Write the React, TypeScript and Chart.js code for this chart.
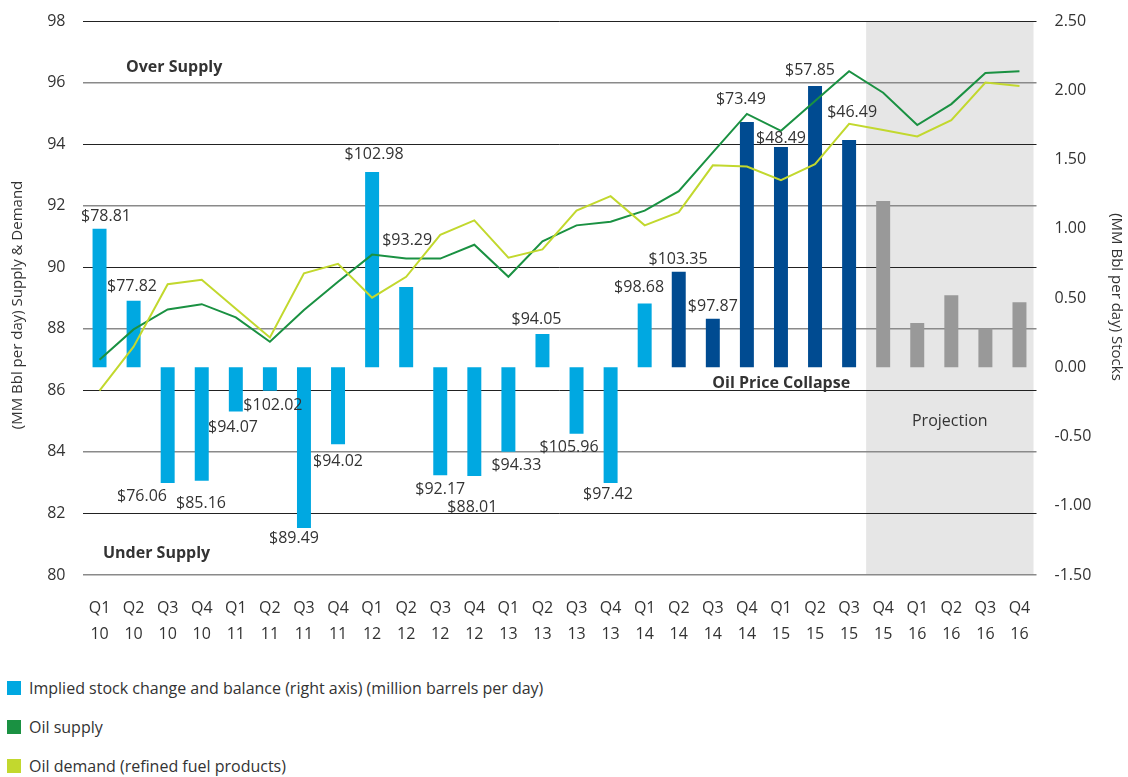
import React, { useEffect, useRef } from 'react';
import { Chart, registerables } from 'chart.js';

Chart.register(...registerables);

// ---- data ----
const quarters = ['Q1', 'Q2', 'Q3', 'Q4', 'Q1', 'Q2', 'Q3', 'Q4', 'Q1', 'Q2', 'Q3', 'Q4', 'Q1', 'Q2', 'Q3', 'Q4', 'Q1', 'Q2', 'Q3', 'Q4', 'Q1', 'Q2', 'Q3', 'Q4', 'Q1', 'Q2', 'Q3', 'Q4'];
const years = ['10', '10', '10', '10', '11', '11', '11', '11', '12', '12', '12', '12', '13', '13', '13', '13', '14', '14', '14', '14', '15', '15', '15', '15', '16', '16', '16', '16'];

// Implied stock change (right axis, MM Bbl per day)
const stockChange = [1.0, 0.48, -0.835, -0.82, -0.32, -0.17, -1.16, -0.556, 1.41, 0.58, -0.78, -0.785, -0.61, 0.24, -0.48, -0.835, 0.46, 0.69, 0.35, 1.77, 1.59, 2.03, 1.64, 1.2, 0.32, 0.52, 0.28, 0.47];
// Oil supply (left axis)
const oilSupply = [86.99, 87.98, 88.63, 88.8, 88.37, 87.58, 88.61, 89.53, 90.41, 90.28, 90.28, 90.73, 89.69, 90.84, 91.36, 91.48, 91.84, 92.47, 93.73, 94.98, 94.43, 95.4, 96.37, 95.67, 94.62, 95.3, 96.31, 96.37];
// Oil demand (left axis)
const oilDemand = [85.99, 87.42, 89.45, 89.59, 88.65, 87.72, 89.8, 90.11, 89.01, 89.69, 91.05, 91.52, 90.31, 90.58, 91.84, 92.31, 91.36, 91.79, 93.31, 93.27, 92.83, 93.35, 94.66, 94.46, 94.25, 94.78, 96.0, 95.89];
// Oil price labels per quarter
const priceLabels = ['$78.81', '$77.82', '$76.06', '$85.16', '$94.07', '$102.02', '$89.49', '$94.02', '$102.98', '$93.29', '$92.17', '$88.01', '$94.33', '$94.05', '$105.96', '$97.42', '$98.68', '$103.35', '$97.87', '$73.49', '$48.49', '$57.85', '$46.49'];

const collapseStart = 17;
const projectionStart = 23;

const leftMin = 80, leftMax = 98, leftStep = 2;
const rightMin = -1.5, rightMax = 2.5, rightStep = 0.5;

// ---- styles / layout ----
const FONT = "'Open Sans', sans-serif";
const TEXT = '#333333';
const LIGHT_BLUE = '#00A8E1';
const DARK_BLUE = '#004B91';
const GREY_BAR = '#999999';
const SUPPLY_GREEN = '#1A9142';
const DEMAND_GREEN = '#C2D82E';

// label offsets relative to the bar end (dx, dy)
const labelOffsets = [[6.5, -12], [-1.6, -14], [-25.7, 14], [-0.7, 23], [-2.8, 16], [3, 15], [-10, 11], [0, 17], [2, -18], [1, -46], [0, 14], [-2, 31], [8, 14], [-6, -15], [-7.5, 14], [-2.6, 12], [-5.6, -16], [-0.7, -12], [0, -12], [-6, -23], [0, -9], [-5, -16], [3, -28]];

const barColors = stockChange.map((_, i) => (i >= projectionStart ? GREY_BAR : i >= collapseStart ? DARK_BLUE : LIGHT_BLUE));

const overlayPlugin = {
  id: 'overlay',
  beforeDraw(chart: any) {
    const { ctx, chartArea, scales } = chart;
    const x = scales.x;
    const half = (x.getPixelForValue(1) - x.getPixelForValue(0)) / 2;
    const x0 = x.getPixelForValue(projectionStart) - half;
    ctx.save();
    ctx.fillStyle = '#E6E6E6';
    ctx.fillRect(x0, chartArea.top, chartArea.right - 3 - x0, chartArea.bottom - chartArea.top);
    ctx.restore();
  },
  afterDraw(chart: any) {
    const { ctx, chartArea, scales } = chart;
    const yL = scales.yL;
    const x = scales.x;
    const meta = chart.getDatasetMeta(0);
    ctx.save();
    ctx.fillStyle = TEXT;
    ctx.textAlign = 'center';
    ctx.textBaseline = 'middle';
    ctx.font = `16px ${FONT}`;
    priceLabels.forEach((lab, i) => {
      const el = meta.data[i];
      if (!el) return;
      const [dx, dy] = labelOffsets[i];
      ctx.fillText(lab, el.x + dx, el.y + dy);
    });

    // annotations
    ctx.font = `bold 16px ${FONT}`;
    ctx.textAlign = 'left';
    ctx.fillText('Over Supply', chartArea.left + 43.5, yL.getPixelForValue(96.5));
    ctx.fillText('Under Supply', chartArea.left + 20.5, yL.getPixelForValue(80.7));
    ctx.textAlign = 'right';
    const collapseEl = meta.data[projectionStart - 1];
    ctx.fillText('Oil Price Collapse', collapseEl.x + 1, yL.getPixelForValue(86.24));

    ctx.font = `16px ${FONT}`;
    ctx.textAlign = 'center';
    const half = (x.getPixelForValue(1) - x.getPixelForValue(0)) / 2;
    const x0 = x.getPixelForValue(projectionStart) - half;
    ctx.fillText('Projection', (x0 + chartArea.right - 3) / 2, yL.getPixelForValue(85.0));

    // axis titles
    ctx.font = `15px ${FONT}`;
    const midY = (chartArea.top + chartArea.bottom) / 2;
    ctx.save();
    ctx.translate(18, midY + 7);
    ctx.rotate(-Math.PI / 2);
    ctx.fillText('(MM Bbl per day) Supply & Demand', 0, 0);
    ctx.restore();
    ctx.save();
    ctx.translate(1116, midY - 1);
    ctx.rotate(Math.PI / 2);
    ctx.fillText('(MM Bbl per day) Stocks', 0, 0);
    ctx.restore();
    ctx.restore();
  },
};

function ChartCanvas() {
  const ref = useRef<HTMLCanvasElement | null>(null);
  useEffect(() => {
    document.body.style.margin = '0';
    const canvas = ref.current;
    if (!canvas) return;
    const labels = quarters.map((q, i) => [q, years[i]]);
    const chart = new Chart(canvas, {
      type: 'bar',
      data: {
        labels,
        datasets: [
          {
            type: 'bar',
            label: 'Implied stock change and balance (right axis) (million barrels per day)',
            data: stockChange,
            backgroundColor: barColors,
            yAxisID: 'yR',
            categoryPercentage: 1,
            barPercentage: 0.41,
            order: 2,
          } as any,
          {
            type: 'line',
            label: 'Oil supply',
            data: oilSupply,
            borderColor: SUPPLY_GREEN,
            backgroundColor: SUPPLY_GREEN,
            borderWidth: 2,
            pointRadius: 0,
            tension: 0,
            yAxisID: 'yL',
            order: 1,
          } as any,
          {
            type: 'line',
            label: 'Oil demand (refined fuel products)',
            data: oilDemand,
            borderColor: DEMAND_GREEN,
            backgroundColor: DEMAND_GREEN,
            borderWidth: 2,
            pointRadius: 0,
            tension: 0,
            yAxisID: 'yL',
            order: 0,
          } as any,
        ],
      },
      options: {
        animation: false,
        responsive: false,
        devicePixelRatio: 1,
        layout: { padding: { top: 21, left: 0, right: 0, bottom: 0 } },
        plugins: { legend: { display: false }, tooltip: { enabled: false } },
        scales: {
          x: {
            type: 'category',
            offset: true,
            grid: { display: false },
            border: { display: false },
            ticks: {
              color: TEXT,
              font: { family: FONT, size: 16, lineHeight: 1.65 },
              padding: 12,
              maxRotation: 0,
              autoSkip: false,
            },
            afterFit(scale: any) {
              scale.height = 85;
            },
          },
          yL: {
            type: 'linear',
            position: 'left',
            min: leftMin,
            max: leftMax,
            ticks: {
              stepSize: leftStep,
              color: TEXT,
              font: { family: FONT, size: 16 },
              padding: 17,
            },
            grid: {
              drawTicks: false,
              color: (c: any) => (c.index % 2 === 0 ? '#8a8a8a' : '#222222'),
              lineWidth: (c: any) => (c.index % 2 === 0 ? 1.6 : 1),
            },
            border: { display: false },
            afterFit(scale: any) {
              scale.width = 82.5;
              scale.paddingTop = 0;
              scale.paddingBottom = 0;
            },
          },
          yR: {
            type: 'linear',
            position: 'right',
            min: rightMin,
            max: rightMax,
            ticks: {
              stepSize: rightStep,
              color: TEXT,
              font: { family: FONT, size: 16 },
              padding: 18,
              callback: (v: any) => Number(v).toFixed(2),
            },
            grid: { display: false, drawTicks: false },
            border: { display: false },
            afterFit(scale: any) {
              scale.width = 91.5;
              scale.paddingTop = 0;
              scale.paddingBottom = 0;
            },
          },
        },
      } as any,
      plugins: [overlayPlugin],
    });
    return () => chart.destroy();
  }, []);
  return <canvas ref={ref} width={1128} height={660} style={{ position: 'absolute', left: 0, top: 0, width: 1128, height: 660 }} />;
}

const legendItems = [
  { color: LIGHT_BLUE, text: 'Implied stock change and balance (right axis) (million barrels per day)' },
  { color: SUPPLY_GREEN, text: 'Oil supply' },
  { color: DEMAND_GREEN, text: 'Oil demand (refined fuel products)' },
];

export default function App() {
  return (
    <div style={{ position: 'relative', width: 1128, height: 777, background: '#fff', fontFamily: FONT }}>
      <ChartCanvas />
      {legendItems.map((it, i) => (
        <div
          key={i}
          style={{ position: 'absolute', left: 7, top: 678 + i * 39, height: 20, display: 'flex', alignItems: 'center', color: TEXT, fontSize: 16 }}
        >
          <span style={{ display: 'inline-block', width: 14, height: 14, background: it.color, marginRight: 8 }} />
          <span style={{ whiteSpace: 'nowrap' }}>{it.text}</span>
        </div>
      ))}
    </div>
  );
}
